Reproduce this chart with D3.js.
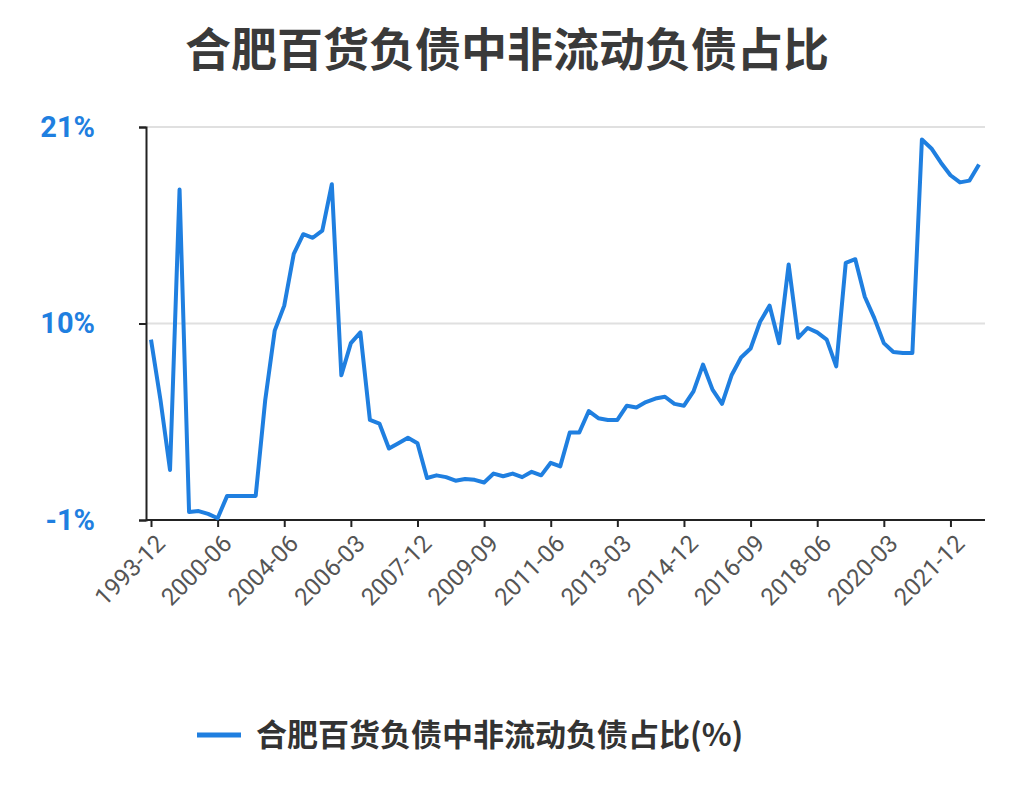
<!DOCTYPE html>
<html><head><meta charset="utf-8">
<script src="https://cdn.jsdelivr.net/npm/d3@7"></script>
<style>body{margin:0;background:#fff}svg{font-family:"Noto Sans CJK SC","Noto Sans",sans-serif}</style>
</head><body><svg id="c" width="1014" height="810"></svg>
<script>
const titleText = "合肥百货负债中非流动负债占比";
const seriesName = "合肥百货负债中非流动负债占比(%)";
const categories = ["1993-12","1994-12","1995-12","1996-12","1997-12","1998-12","1999-12","2000-06","2000-12","2001-06","2001-12","2002-06","2002-12","2003-12",
"2004-06","2004-09","2004-12","2005-03","2005-06","2005-09","2005-12","2006-03","2006-06","2006-09","2006-12","2007-03","2007-06","2007-09","2007-12",
"2008-03","2008-06","2008-09","2008-12","2009-03","2009-06","2009-09","2009-12","2010-03","2010-06","2010-09","2010-12","2011-03","2011-06",
"2011-09","2011-12","2012-03","2012-06","2012-09","2012-12","2013-03","2013-06","2013-09","2013-12","2014-03","2014-06","2014-09","2014-12",
"2015-03","2015-06","2015-09","2015-12","2016-03","2016-06","2016-09","2016-12","2017-03","2017-06","2017-09","2017-12","2018-03","2018-06",
"2018-09","2018-12","2019-03","2019-06","2019-09","2019-12","2020-03","2020-06","2020-09","2020-12","2021-03","2021-06","2021-09","2021-12",
"2022-03","2022-06","2022-09"];
const values = [9.1,5.7,1.8,17.5,-0.55,-0.5,-0.66,-0.9,0.35,0.35,0.35,0.35,5.7,9.6,
11.0,13.9,15.0,14.8,15.2,17.8,7.1,8.9,9.5,4.6,4.4,3.0,3.3,3.6,3.3,
1.35,1.5,1.4,1.2,1.3,1.25,1.1,1.6,1.45,1.6,1.4,1.7,1.5,2.2,
2.0,3.9,3.9,5.1,4.7,4.6,4.6,5.4,5.3,5.6,5.8,5.9,5.5,5.4,
6.2,7.7,6.3,5.5,7.1,8.1,8.6,10.1,11.0,8.9,13.3,9.2,9.75,9.5,
9.1,7.6,13.4,13.6,11.5,10.3,8.9,8.4,8.35,8.35,20.3,19.8,19.0,18.3,
17.9,18.0,18.9];
const yTicks = [-1,10,21];
const tickEvery = 7;

const svg = d3.select("#c");
const blue = "#1f7fe0";
const x = d3.scalePoint().domain(categories).range([151,979]);
const y = d3.scaleLinear().domain([-1,21]).range([520,127]);

svg.append("text").attr("x",507).attr("y",66).attr("text-anchor","middle")
  .attr("font-size",46).attr("font-weight","bold").attr("fill","#3a3a3a").text(titleText);

svg.selectAll(".grid").data(yTicks.filter(d=>d>-1)).enter().append("line")
  .attr("x1",146).attr("x2",985).attr("y1",d=>y(d)).attr("y2",d=>y(d))
  .attr("stroke","#e0e0e0").attr("stroke-width",2);

const ya = svg.append("g").attr("transform","translate(146,0)")
  .call(d3.axisLeft(y).tickValues(yTicks).tickFormat(d=>d+"%").tickSize(7).tickPadding(44));
ya.select(".domain").attr("stroke","#222").attr("stroke-width",2);
ya.selectAll(".tick line").attr("stroke","#222").attr("stroke-width",2);
ya.selectAll("text").attr("font-size",29).attr("font-weight","bold").attr("fill",blue).attr("font-family","Roboto,sans-serif");

const xa = svg.append("g").attr("transform","translate(0,520)")
  .call(d3.axisBottom(x).tickValues(categories.filter((d,i)=>i%tickEvery===0)).tickSize(7).tickSizeOuter(0));
xa.select(".domain").attr("d","M146,0H985").attr("stroke","#222").attr("stroke-width",2);
xa.selectAll(".tick line").attr("stroke","#222").attr("stroke-width",2);
xa.selectAll("text").attr("font-size",24).attr("fill","#555").attr("font-family","Roboto,sans-serif")
  .attr("text-anchor","end").attr("dy",0).attr("transform","translate(8,18) rotate(-45)");

svg.append("path").datum(values)
  .attr("d",d3.line().x((d,i)=>x(categories[i])).y(d=>y(d)))
  .attr("fill","none").attr("stroke",blue).attr("stroke-width",4).attr("stroke-linejoin","round");

svg.append("line").attr("x1",197).attr("x2",241).attr("y1",735).attr("y2",735).attr("stroke",blue).attr("stroke-width",5);
svg.append("text").attr("x",256).attr("y",746).attr("font-size",31).attr("font-weight","bold").attr("fill","#333").text(seriesName);
</script></body></html>
